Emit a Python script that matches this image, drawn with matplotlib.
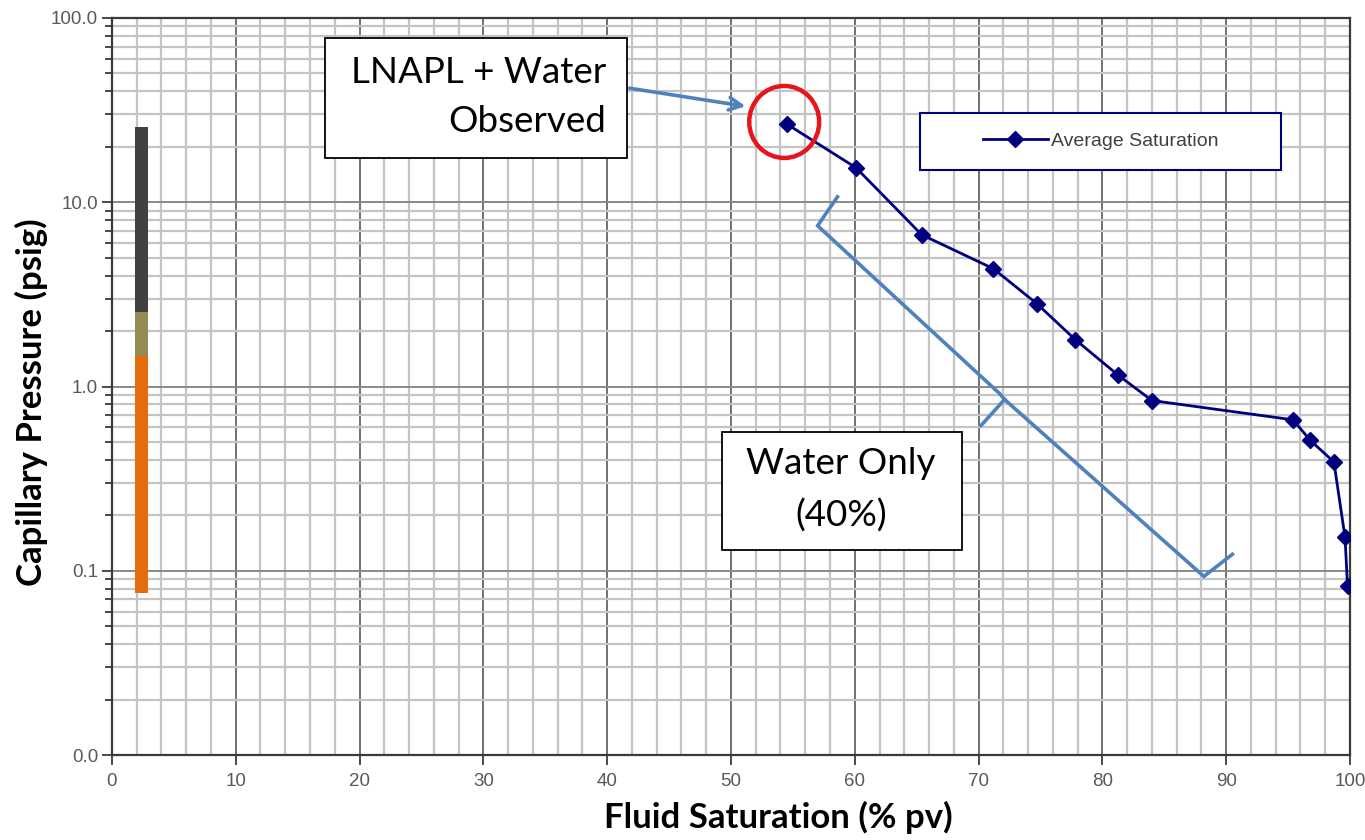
"""Capillary pressure curve (average saturation) with zone bar and annotations."""
import matplotlib

matplotlib.use("Agg")
import matplotlib.pyplot as plt
from matplotlib.patches import Ellipse, Rectangle
from matplotlib.ticker import FixedLocator, NullFormatter
import numpy as np

NAVY = "#00007f"
BLUE = "#4f81bd"
RED = "#e8141b"
GRID_MAJ = "#4a4a4a"
GRID_MIN = "#c4c4c4"
TICK_TXT = "#595959"

# average saturation curve
SATURATION = [54.5, 60.1, 65.4, 71.2, 74.7, 77.8, 81.3, 84.0, 95.4, 96.8, 98.7, 99.6, 99.8]
PRESSURE = [26.6, 15.4, 6.67, 4.36, 2.82, 1.80, 1.15, 0.84, 0.66, 0.51, 0.39, 0.152, 0.083]

# stacked zone bar at the left edge (bottom -> top)
ZONE_X = 2.4
ZONE_BOUNDS = [0.076, 1.47, 2.55, 25.6]
ZONE_COLORS = ["#e46c0a", "#948a54", "#404040"]

# brace marking the water-only interval
BRACE_X = [58.6, 57.0, 71.7, 72.1, 88.2, 90.5]
BRACE_Y = [10.7, 7.46, 0.916, 0.851, 0.0933, 0.123]
BRACE_TIP = ([72.1, 70.2], [0.851, 0.615])

plt.rcParams.update({"font.family": ["Liberation Sans", "DejaVu Sans"]})
CAL = ["Lato", "DejaVu Sans"]

fig = plt.figure(figsize=(13.65, 8.4), dpi=100)
ax = fig.add_axes([0.082, 0.101, 0.907, 0.8776])

ax.set_yscale("log")
ax.set_xlim(0, 100)
ax.set_ylim(0.01, 100)

# grid
ax.xaxis.set_major_locator(FixedLocator(np.arange(0, 101, 10)))
ax.xaxis.set_minor_locator(FixedLocator(np.arange(0, 101, 2)))
yt = [0.01, 0.1, 1, 10, 100]
ax.yaxis.set_major_locator(FixedLocator(yt))
ax.yaxis.set_minor_locator(FixedLocator([m * d for d in yt[:-1] for m in range(2, 10)]))
ax.yaxis.set_minor_formatter(NullFormatter())
ax.set_yticklabels([f"{v:.1f}" for v in yt])
ax.grid(which="minor", axis="both", color=GRID_MIN, lw=1.6, zorder=0)
ax.grid(which="major", axis="x", color=GRID_MAJ, lw=1.1, zorder=0.5)
ax.grid(which="major", axis="y", color="#8a8a8a", lw=1.4, zorder=0.5)
ax.set_axisbelow(True)
for s in ax.spines.values():
    s.set_color("#3a3a3a")
    s.set_linewidth(1.6)
ax.tick_params(which="both", direction="out", color="#3a3a3a", width=1.3,
               labelsize=13.5, labelcolor=TICK_TXT)
ax.tick_params(which="major", length=7, pad=6)
ax.tick_params(which="minor", length=5)
ax.tick_params(axis="x", which="minor", length=0)
ax.tick_params(axis="y", which="major", pad=3)

# zone bar
for lo, hi, col in zip(ZONE_BOUNDS[:-1], ZONE_BOUNDS[1:], ZONE_COLORS):
    ax.bar(ZONE_X, hi - lo, bottom=lo, width=1.05, color=col, zorder=3)

ax.plot(SATURATION, PRESSURE, "-D", color=NAVY, lw=2, ms=8, zorder=5,
        label="Average Saturation")

# legend inside a wide box
ax.add_patch(Rectangle((0.653, 0.794), 0.291, 0.077, transform=ax.transAxes,
                       facecolor="white", edgecolor=NAVY, lw=1.5, zorder=6))
leg = ax.legend(loc="center", bbox_to_anchor=(0.799, 0.833), frameon=False,
                fontsize=14, handlelength=3.3, handletextpad=0.2)
leg.set_zorder(7)
for t in leg.get_texts():
    t.set_color("#404040")

# brace
ax.plot(BRACE_X, BRACE_Y, color=BLUE, lw=2.6, zorder=4, solid_joinstyle="miter")
ax.plot(*BRACE_TIP, color=BLUE, lw=2.6, zorder=4)

# annotation boxes
ax.add_patch(Rectangle((0.172, 0.810), 0.244, 0.163, transform=ax.transAxes,
                       facecolor="white", edgecolor="black", lw=1.3, zorder=6))
ax.text(0.399, 0.893, "LNAPL + Water\nObserved", transform=ax.transAxes,
        ha="right", va="center", multialignment="right", fontsize=26.5,
        family=CAL, linespacing=1.6, zorder=7)
ax.annotate("", xy=(51.4, 33.0), xytext=(41.6, 41.8),
            arrowprops=dict(arrowstyle="->,head_length=0.9,head_width=0.45",
                            color=BLUE, lw=2.6), zorder=7)

ax.add_patch(Rectangle((0.493, 0.278), 0.194, 0.160, transform=ax.transAxes,
                       facecolor="white", edgecolor="black", lw=1.3, zorder=6))
ax.text(0.589, 0.360, "Water Only\n(40%)", transform=ax.transAxes,
        ha="center", va="center", multialignment="center", fontsize=26.5,
        family=CAL, linespacing=1.65, zorder=7)

ax.add_patch(Ellipse((0.543, 0.859), 0.0565, 0.0977, transform=ax.transAxes,
                     facecolor="none", edgecolor=RED, lw=3.2, zorder=8))

ax.set_xlabel("Fluid Saturation (% pv)", fontsize=25, fontweight="bold", family=CAL)
ax.set_ylabel("Capillary Pressure (psig)", fontsize=25, fontweight="bold", family=CAL)
ax.xaxis.set_label_coords(0.538, -0.062)
ax.yaxis.set_label_coords(-0.052, 0.479)

fig.savefig("out.png", dpi=100)
